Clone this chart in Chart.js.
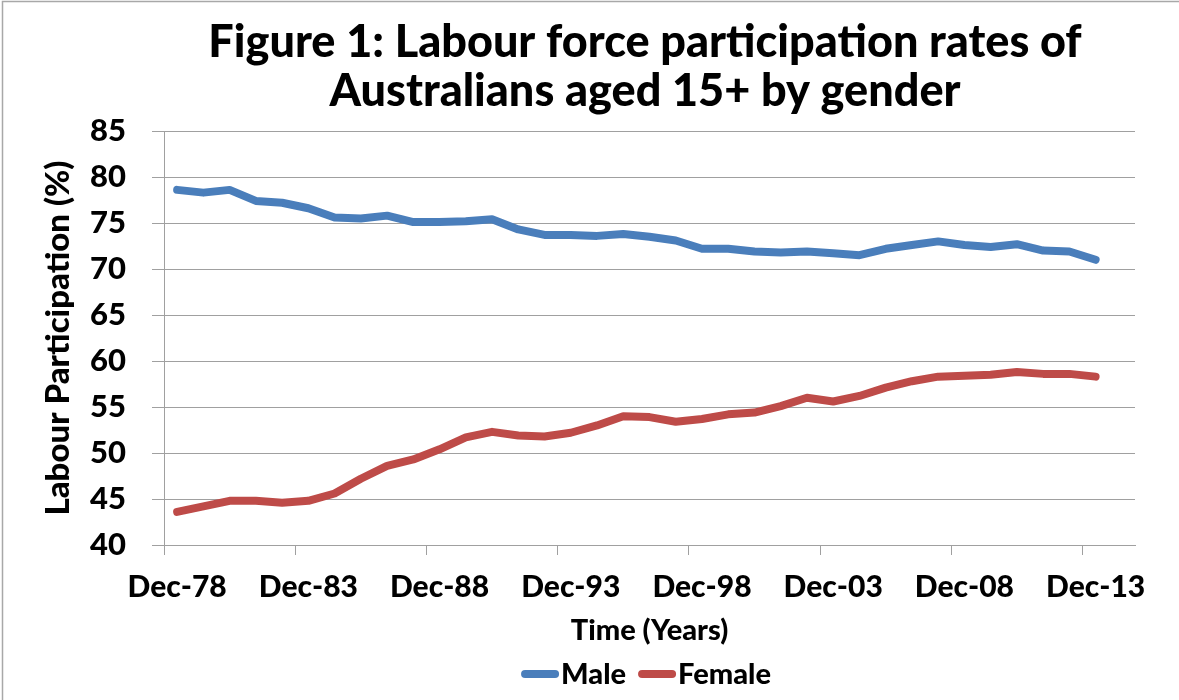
<!DOCTYPE html>
<html><head><meta charset="utf-8">
<script src="https://cdn.jsdelivr.net/npm/chart.js@4.4.1/dist/chart.umd.min.js"></script>
<style>html,body{margin:0;padding:0;background:#fff;overflow:hidden}#wrap{width:1179px;height:700px}</style>
</head><body><div id="wrap"><canvas id="c" width="1179" height="700"></canvas></div>
<script>
const categories = ['Dec-78','Dec-79','Dec-80','Dec-81','Dec-82','Dec-83','Dec-84','Dec-85','Dec-86','Dec-87',
  'Dec-88','Dec-89','Dec-90','Dec-91','Dec-92','Dec-93','Dec-94','Dec-95','Dec-96','Dec-97',
  'Dec-98','Dec-99','Dec-00','Dec-01','Dec-02','Dec-03','Dec-04','Dec-05','Dec-06','Dec-07',
  'Dec-08','Dec-09','Dec-10','Dec-11','Dec-12','Dec-13','Dec-14'];
const male = [78.6,78.3,78.6,77.4,77.2,76.6,75.6,75.5,75.8,75.1,75.1,75.2,75.4,74.3,73.7,73.7,73.6,73.8,73.5,73.1,
  72.2,72.2,71.9,71.8,71.9,71.7,71.5,72.2,72.6,73.0,72.6,72.4,72.7,72.0,71.9,71.0];
const female = [43.6,44.2,44.8,44.8,44.6,44.8,45.6,47.2,48.6,49.3,50.4,51.7,52.3,51.9,51.8,52.2,53.0,54.0,53.9,53.4,
  53.7,54.2,54.4,55.1,56.0,55.6,56.2,57.1,57.8,58.3,58.4,58.5,58.8,58.6,58.6,58.3];
const seriesNames = ['Male','Female'];
const seriesColors = ['#4A7EBB','#BE4B48'];
const titleLines = ['Figure 1: Labour force participation rates of','Australians aged 15+ by gender'];
const xTitle = 'Time (Years)';
const yTitle = 'Labour Participation (%)';
const yMin = 40, yMax = 85, yStep = 5, labelEvery = 5;

const FONT = 'Lato';
const W = 900;
const gridColor = '#a0a0a0';

const decor = {
  id: 'decor',
  beforeDraw(chart) {
    const ctx = chart.ctx;
    ctx.save();
    ctx.fillStyle = '#fff';
    ctx.fillRect(0, 0, chart.width, chart.height);
    ctx.strokeStyle = '#a8a8a8';
    ctx.lineWidth = 1.5;
    ctx.beginPath();
    ctx.moveTo(2.5, chart.height);
    ctx.lineTo(2.5, 1.5);
    ctx.lineTo(chart.width, 1.5);
    ctx.stroke();
    ctx.restore();
  },
  afterDraw(chart) {
    const ctx = chart.ctx;
    ctx.save();
    ctx.fillStyle = '#000';
    ctx.font = W + ' 45px ' + FONT;
    ctx.textAlign = 'center';
    ctx.textBaseline = 'alphabetic';
    ctx.fillText(titleLines[0], 645, 57);
    ctx.fillText(titleLines[1], 645, 106);
    ctx.font = W + ' 29px ' + FONT;
    ctx.textAlign = 'left';
    const markW = 38, gap = 2, itemGap = 12;
    const widths = seriesNames.map(n => ctx.measureText(n).width);
    let total = 0;
    widths.forEach((w, i) => { total += markW + gap + w + (i ? itemGap : 0); });
    let x = 646 - total / 2;
    const yc = 674;
    seriesNames.forEach((n, i) => {
      ctx.strokeStyle = seriesColors[i];
      ctx.lineWidth = 8;
      ctx.lineCap = 'round';
      ctx.beginPath();
      ctx.moveTo(x + 4, yc);
      ctx.lineTo(x + markW - 4, yc);
      ctx.stroke();
      ctx.fillStyle = '#000';
      ctx.fillText(n, x + markW + gap, 684);
      x += markW + gap + widths[i] + itemGap;
    });
    ctx.restore();
  }
};

new Chart(document.getElementById('c'), {
  type: 'line',
  data: {
    labels: categories,
    datasets: [
      { label: seriesNames[0], data: male, borderColor: seriesColors[0], backgroundColor: seriesColors[0],
        borderWidth: 8, pointRadius: 0, tension: 0, borderCapStyle: 'round', borderJoinStyle: 'round' },
      { label: seriesNames[1], data: female, borderColor: seriesColors[1], backgroundColor: seriesColors[1],
        borderWidth: 8, pointRadius: 0, tension: 0, borderCapStyle: 'round', borderJoinStyle: 'round' }
    ]
  },
  options: {
    responsive: false,
    animation: false,
    devicePixelRatio: 1,
    layout: { padding: { top: 131, left: 0, right: 44, bottom: 0 } },
    plugins: { legend: { display: false }, title: { display: false }, tooltip: { enabled: false } },
    scales: {
      x: {
        type: 'category',
        offset: true,
        afterFit(scale) { scale.height = 155; },
        grid: {
          display: true, drawOnChartArea: false, drawTicks: true, tickLength: 10, offset: true,
          color: (c) => (c.index % labelEvery === 0 ? gridColor : 'rgba(0,0,0,0)'), lineWidth: 1
        },
        border: { display: true, color: gridColor, width: 1 },
        ticks: {
          autoSkip: false, maxRotation: 0, minRotation: 0, padding: 14, color: '#000',
          font: { family: FONT, size: 30, weight: W },
          callback: function (v, i) { return i % labelEvery === 0 ? this.getLabelForValue(v) : ''; }
        },
        title: { display: true, text: xTitle, color: '#000', font: { family: FONT, size: 29, weight: W, lineHeight: 1.2 },
          padding: { top: 0, bottom: 52 } }
      },
      y: {
        min: yMin, max: yMax,
        afterFit(scale) { scale.width = 164; },
        grid: { color: gridColor, lineWidth: 1, tickLength: 12, drawTicks: true },
        border: { display: true, color: gridColor, width: 1 },
        ticks: { stepSize: yStep, padding: 26, color: '#000', font: { family: FONT, size: 31, weight: W } },
        title: { display: true, text: yTitle, color: '#000', font: { family: FONT, size: 33, weight: W, lineHeight: 1.2 },
          padding: { top: 39, bottom: 0 } }
      }
    }
  },
  plugins: [decor]
});
</script></body></html>
